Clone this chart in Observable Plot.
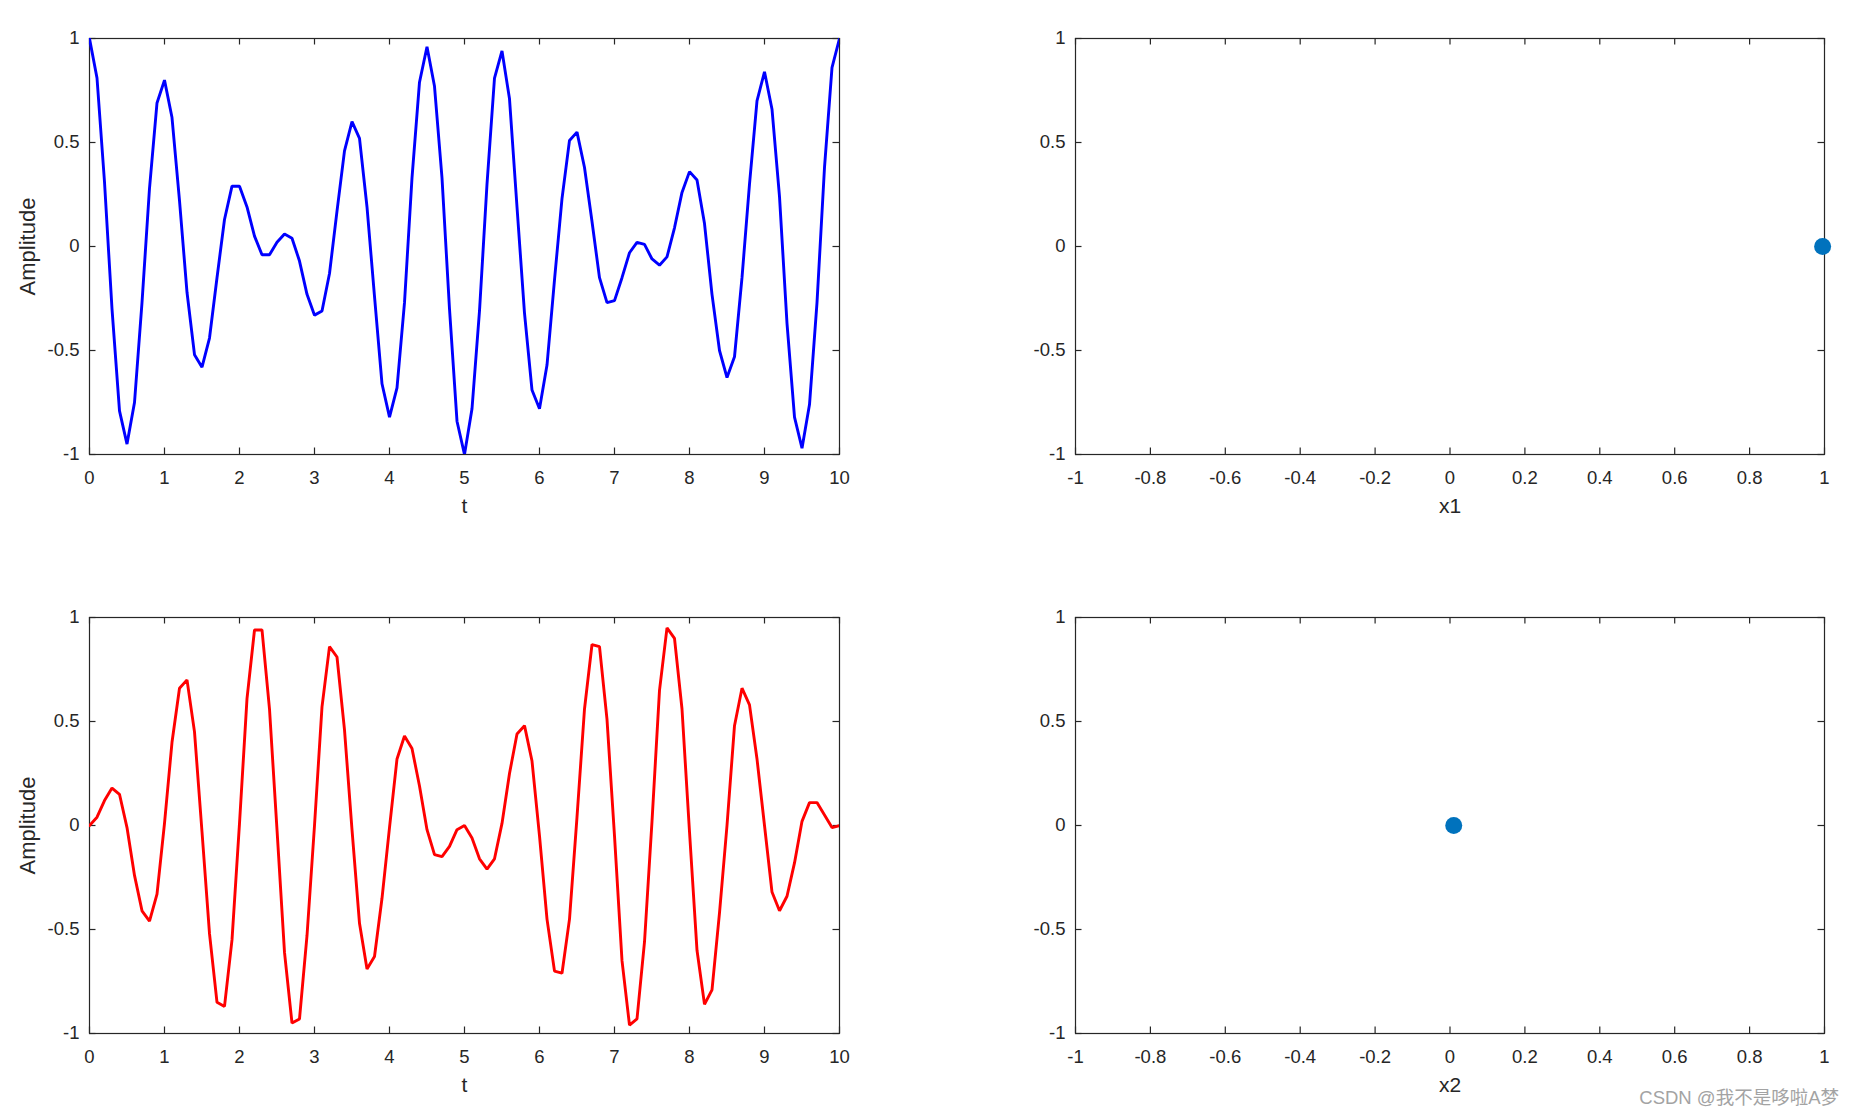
<!DOCTYPE html>
<html>
<head>
<meta charset="utf-8">
<script src="https://cdn.jsdelivr.net/npm/d3@7"></script>
<script src="https://cdn.jsdelivr.net/npm/@observablehq/plot@0.6"></script>
<style>
  html, body { margin: 0; padding: 0; background: #fff; }
  #page { position: relative; width: 1855px; height: 1117px; background: #fff; overflow: hidden; }
  .panel { position: absolute; }
  #wm { position: absolute; right: 16px; top: 1083px; font-family: "Liberation Sans", "Noto Sans CJK SC", sans-serif; font-size: 18.5px; color: #a3a3a3; white-space: nowrap; }
</style>
</head>
<body>
<div id="page">
  <div class="panel" id="p1" style="left:0px;top:0px"></div>
  <div class="panel" id="p2" style="left:1000px;top:0px"></div>
  <div class="panel" id="p3" style="left:0px;top:579px"></div>
  <div class="panel" id="p4" style="left:1000px;top:579px"></div>
  <div id="wm">CSDN @我不是哆啦A梦</div>
</div>
<script>
// ---- data ----
const tValues = [0,0.1,0.2,0.3,0.4,0.5,0.6,0.7,0.8,0.9,
  1,1.1,1.2,1.3,1.4,1.5,1.6,1.7,1.8,1.9,
  2,2.1,2.2,2.3,2.4,2.5,2.6,2.7,2.8,2.9,
  3,3.1,3.2,3.3,3.4,3.5,3.6,3.7,3.8,3.9,
  4,4.1,4.2,4.3,4.4,4.5,4.6,4.7,4.8,4.9,
  5,5.1,5.2,5.3,5.4,5.5,5.6,5.7,5.8,5.9,
  6,6.1,6.2,6.3,6.4,6.5,6.6,6.7,6.8,6.9,
  7,7.1,7.2,7.3,7.4,7.5,7.6,7.7,7.8,7.9,
  8,8.1,8.2,8.3,8.4,8.5,8.6,8.7,8.8,8.9,
  9,9.1,9.2,9.3,9.4,9.5,9.6,9.7,9.8,9.9,
  10];

const signal1 = [1.00,0.81,0.31,-0.30,-0.79,-0.95,-0.75,-0.27,0.28,0.69,
  0.80,0.62,0.22,-0.22,-0.52,-0.58,-0.44,-0.15,0.13,0.29,
  0.29,0.19,0.05,-0.04,-0.04,0.02,0.06,0.04,-0.07,-0.23,
  -0.33,-0.31,-0.13,0.17,0.46,0.60,0.52,0.19,-0.24,-0.66,
  -0.82,-0.68,-0.27,0.33,0.79,0.96,0.77,0.33,-0.30,-0.84,
  -1.00,-0.78,-0.31,0.30,0.81,0.94,0.71,0.19,-0.32,-0.69,
  -0.78,-0.57,-0.16,0.23,0.51,0.55,0.38,0.12,-0.15,-0.27,
  -0.26,-0.15,-0.03,0.02,0.01,-0.06,-0.09,-0.05,0.09,0.26,
  0.36,0.32,0.11,-0.23,-0.50,-0.63,-0.53,-0.15,0.30,0.70,
  0.84,0.66,0.24,-0.37,-0.82,-0.97,-0.76,-0.27,0.38,0.86,
  1.00];

const signal2 = [0.00,0.04,0.12,0.18,0.15,-0.01,-0.24,-0.41,-0.46,-0.33,
  0.01,0.40,0.66,0.70,0.45,-0.03,-0.52,-0.85,-0.87,-0.55,
  0.01,0.61,0.94,0.94,0.56,-0.02,-0.61,-0.95,-0.93,-0.53,
  0.00,0.57,0.86,0.81,0.46,-0.02,-0.47,-0.69,-0.63,-0.35,
  -0.01,0.32,0.43,0.37,0.19,-0.02,-0.14,-0.15,-0.10,-0.02,
  0.00,-0.06,-0.16,-0.21,-0.16,0.01,0.25,0.44,0.48,0.31,
  -0.05,-0.45,-0.70,-0.71,-0.45,0.04,0.56,0.87,0.86,0.51,
  -0.05,-0.65,-0.96,-0.93,-0.56,0.02,0.65,0.95,0.90,0.56,
  -0.03,-0.60,-0.86,-0.79,-0.42,0.00,0.48,0.66,0.58,0.32,
  0.00,-0.32,-0.41,-0.34,-0.18,0.02,0.11,0.11,0.05,-0.01,
  0.00];

const point1 = [{x: 0.995, y: 0}];
const point2 = [{x: 0.01, y: 0}];

const tTicks = [0,1,2,3,4,5,6,7,8,9,10];
const xTicksRight = [-1,-0.8,-0.6,-0.4,-0.2,0,0.2,0.4,0.6,0.8,1];
const yTicks = [-1,-0.5,0,0.5,1];

// ---- drawing ----
const AX = "#262626";
const FONT = "'Liberation Sans', Arial, sans-serif";
const TICK = 6.5;

function panel({width, marginLeft, marginRight, xDomain, xTicks, xLabel, yLabel, marks}) {
  const height = 530, marginTop = 38, marginBottom = 76;
  const fw = width - marginLeft - marginRight;
  const fh = height - marginTop - marginBottom;
  const extra = [];
  if (yLabel) extra.push(Plot.text([yLabel], {frameAnchor: "left", dx: -62, rotate: -90, textAnchor: "middle", lineAnchor: "middle", fontSize: 22, fill: AX}));
  return Plot.plot({
    width, height, marginLeft, marginRight, marginTop, marginBottom,
    style: {fontFamily: FONT, fontSize: "18.5px", color: AX, background: "transparent", overflow: "visible"},
    x: {domain: xDomain, label: null},
    y: {domain: [-1, 1], label: null},
    marks: [
      Plot.frame({stroke: AX, strokeWidth: 1.2}),
      Plot.tickX(xTicks, {x: d => d, insetTop: fh - TICK, stroke: AX, strokeWidth: 1.2}),
      Plot.tickX(xTicks, {x: d => d, insetBottom: fh - TICK, stroke: AX, strokeWidth: 1.2}),
      Plot.tickY(yTicks, {y: d => d, insetRight: fw - TICK, stroke: AX, strokeWidth: 1.2}),
      Plot.tickY(yTicks, {y: d => d, insetLeft: fw - TICK, stroke: AX, strokeWidth: 1.2}),
      Plot.axisX({ticks: xTicks, tickSize: 0, tickPadding: 16, tickFormat: d => String(d), label: null, fontSize: 18.5, fill: AX}),
      Plot.axisY({ticks: yTicks, tickSize: 0, tickPadding: 10, tickFormat: d => String(d), label: null, fontSize: 18.5, fill: AX}),
      Plot.text([xLabel], {frameAnchor: "bottom", dy: 52, textAnchor: "middle", lineAnchor: "middle", fontSize: 21, fill: AX}),
      ...extra,
      ...marks
    ]
  });
}

const series1 = tValues.map((t, i) => ({t, v: signal1[i]}));
const series2 = tValues.map((t, i) => ({t, v: signal2[i]}));

document.getElementById("p1").append(panel({
  width: 900, marginLeft: 89, marginRight: 61, xDomain: [0, 10], xTicks: tTicks, xLabel: "t", yLabel: "Amplitude",
  marks: [Plot.line(series1, {x: "t", y: "v", stroke: "#0000ff", strokeWidth: 2.9, strokeLinejoin: "miter", clip: true})]
}));
document.getElementById("p3").append(panel({
  width: 900, marginLeft: 89, marginRight: 61, xDomain: [0, 10], xTicks: tTicks, xLabel: "t", yLabel: "Amplitude",
  marks: [Plot.line(series2, {x: "t", y: "v", stroke: "#ff0000", strokeWidth: 2.9, strokeLinejoin: "miter", clip: true})]
}));
document.getElementById("p2").append(panel({
  width: 855, marginLeft: 75, marginRight: 31, xDomain: [-1, 1], xTicks: xTicksRight, xLabel: "x1",
  marks: [Plot.dot(point1, {x: "x", y: "y", r: 8.5, fill: "#0072BD", stroke: "none"})]
}));
document.getElementById("p4").append(panel({
  width: 855, marginLeft: 75, marginRight: 31, xDomain: [-1, 1], xTicks: xTicksRight, xLabel: "x2",
  marks: [Plot.dot(point2, {x: "x", y: "y", r: 8.5, fill: "#0072BD", stroke: "none"})]
}));
</script>
</body>
</html>
